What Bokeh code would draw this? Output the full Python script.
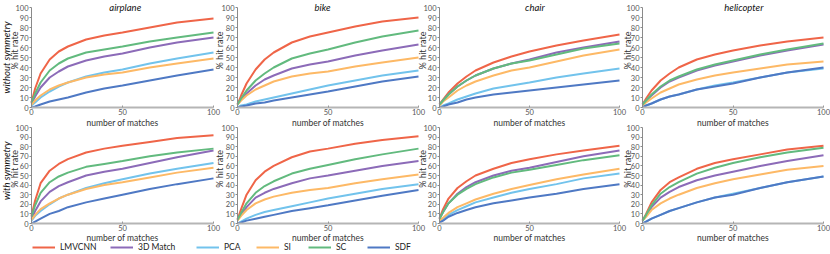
import math
from bokeh.plotting import figure
from bokeh.models import (Range1d, FixedTicker, Label, Legend, LegendItem,
                          LinearAxis)
from bokeh.embed import file_html
from bokeh.resources import INLINE

# ---------------- data ----------------
X_MATCHES = [0, 2, 5, 10, 15, 20, 30, 40, 50, 65, 80, 100]
METHODS = ["LMVCNN", "3D Match", "PCA", "SI", "SC", "SDF"]
CATEGORIES = ["airplane", "bike", "chair", "helicopter"]
ROW_LABELS = ["without symmetry", "with symmetry"]
Y_TICKS = [0, 10, 20, 30, 40, 50, 60, 70, 80, 90, 100]
X_TICKS = [0, 50, 100]

# without symmetry
AIRPLANE_WO = {
    "LMVCNN":   [5, 19, 34, 48, 56, 61, 68, 72, 75, 80, 85, 89],
    "3D Match": [4, 11, 20, 30, 36, 41, 47, 51, 54, 60, 65, 70],
    "PCA":      [2, 5, 10, 16, 21, 25, 31, 35, 38, 44, 49, 55],
    "SI":       [3, 7, 12, 18, 22, 25, 30, 33, 35, 40, 44, 49],
    "SC":       [5, 14, 25, 37, 44, 49, 55, 58, 61, 66, 70, 75],
    "SDF":      [0, 1, 3, 6, 8, 10, 15, 19, 22, 27, 32, 38],
}
BIKE_WO = {
    "LMVCNN":   [3, 12, 24, 38, 48, 55, 65, 71, 75, 81, 86, 90],
    "3D Match": [3, 8, 14, 22, 28, 32, 39, 43, 46, 52, 57, 63],
    "PCA":      [0, 2, 3, 6, 8, 10, 14, 18, 22, 27, 32, 37],
    "SI":       [3, 7, 12, 18, 22, 26, 31, 34, 36, 41, 45, 50],
    "SC":       [3, 9, 17, 27, 34, 40, 49, 54, 58, 65, 71, 77],
    "SDF":      [0, 1, 2, 4, 5, 7, 10, 13, 16, 21, 26, 31],
}
CHAIR_WO = {
    "LMVCNN":   [3, 8, 15, 24, 31, 37, 45, 51, 56, 62, 67, 73],
    "3D Match": [3, 7, 13, 21, 27, 32, 39, 44, 48, 55, 60, 66],
    "PCA":      [0, 2, 4, 8, 11, 14, 19, 22, 25, 30, 34, 39],
    "SI":       [2, 6, 10, 17, 22, 26, 32, 37, 40, 46, 52, 58],
    "SC":       [3, 7, 13, 21, 27, 32, 39, 44, 47, 53, 59, 64],
    "SDF":      [0, 1, 3, 5, 8, 10, 13, 15, 17, 20, 23, 27],
}
HELICOPTER_WO = {
    "LMVCNN":   [3, 9, 17, 27, 34, 40, 48, 53, 57, 62, 66, 70],
    "3D Match": [3, 7, 12, 20, 26, 30, 37, 42, 46, 52, 57, 63],
    "PCA":      [0, 2, 4, 8, 11, 13, 18, 22, 25, 30, 35, 39],
    "SI":       [2, 5, 9, 15, 19, 23, 28, 32, 35, 39, 43, 46],
    "SC":       [3, 7, 13, 21, 27, 31, 38, 43, 47, 53, 58, 64],
    "SDF":      [0, 2, 4, 8, 11, 13, 18, 21, 24, 30, 35, 40],
}
# with symmetry
AIRPLANE_W = {
    "LMVCNN":   [8, 24, 42, 55, 62, 67, 74, 78, 81, 85, 89, 92],
    "3D Match": [5, 13, 23, 33, 39, 43, 50, 54, 57, 63, 69, 76],
    "PCA":      [3, 8, 13, 20, 26, 30, 37, 42, 46, 52, 57, 63],
    "SI":       [4, 9, 15, 21, 26, 30, 36, 40, 43, 48, 53, 58],
    "SC":       [7, 19, 32, 43, 49, 53, 59, 62, 65, 70, 74, 78],
    "SDF":      [0, 2, 5, 10, 13, 17, 22, 26, 30, 36, 41, 47],
}
BIKE_W = {
    "LMVCNN":   [4, 15, 30, 45, 54, 60, 69, 75, 78, 83, 87, 91],
    "3D Match": [4, 9, 17, 27, 32, 36, 42, 47, 50, 55, 60, 65],
    "PCA":      [0, 2, 5, 9, 12, 14, 18, 22, 26, 31, 36, 41],
    "SI":       [3, 8, 14, 21, 25, 28, 32, 35, 37, 42, 46, 51],
    "SC":       [4, 11, 21, 32, 39, 44, 52, 57, 61, 67, 72, 78],
    "SDF":      [0, 1, 3, 5, 7, 9, 13, 16, 19, 24, 29, 35],
}
CHAIR_W = {
    "LMVCNN":   [5, 15, 26, 37, 44, 50, 57, 63, 67, 72, 76, 81],
    "3D Match": [5, 12, 21, 31, 38, 43, 50, 55, 58, 64, 70, 76],
    "PCA":      [2, 5, 9, 14, 18, 22, 27, 32, 36, 41, 47, 52],
    "SI":       [3, 6, 11, 17, 21, 25, 31, 36, 40, 46, 51, 57],
    "SC":       [5, 12, 21, 30, 36, 41, 48, 53, 56, 61, 66, 71],
    "SDF":      [1, 3, 7, 11, 14, 17, 21, 24, 27, 31, 36, 41],
}
HELICOPTER_W = {
    "LMVCNN":   [3, 10, 22, 35, 43, 48, 57, 63, 67, 72, 77, 81],
    "3D Match": [3, 8, 17, 27, 33, 38, 45, 50, 54, 60, 65, 71],
    "PCA":      [0, 2, 5, 9, 13, 16, 22, 27, 31, 37, 43, 49],
    "SI":       [3, 7, 14, 21, 26, 30, 37, 42, 46, 51, 56, 60],
    "SC":       [3, 9, 19, 31, 38, 43, 52, 58, 63, 69, 74, 79],
    "SDF":      [0, 2, 5, 9, 13, 16, 22, 27, 30, 37, 43, 49],
}
PANELS = [[AIRPLANE_WO, BIKE_WO, CHAIR_WO, HELICOPTER_WO],
          [AIRPLANE_W, BIKE_W, CHAIR_W, HELICOPTER_W]]

COLORS = {
    "LMVCNN": "#ef6548",
    "3D Match": "#8c6bb8",
    "PCA": "#72c3ec",
    "SI": "#fdb966",
    "SC": "#62ba7e",
    "SDF": "#4f79c4",
}

# ---------------- layout / style ----------------
FONT = "Lato"
W, H = 830, 254
FRAME_X = [(31, 213), (237, 418), (439, 619), (642, 823)]   # px of x=0 / x=100
FRAME_Y = [(7, 107), (127, 223)]                             # px (from top) of y=100 / y=0
TITLE_X = [51.5, 47, 53, 56]
YLABEL_DX = [-17.5, -18.5, -17, -15.5]
YLABEL_Y = 57
ROW_LABEL_DX = -25.5
ROW_LABEL_Y = [50, 55]
LEG_X = [32, 110, 196, 256, 308, 367]
LEG_Y = 2

p = figure(width=W, height=H, x_range=Range1d(0, W), y_range=Range1d(0, H),
           output_backend="svg", toolbar_location=None, min_border=0,
           x_axis_location=None, y_axis_location=None)
p.outline_line_color = None
p.grid.visible = False
p.background_fill_color = "white"
p.border_fill_color = "white"

xr = {}
for ci, (x0, x1) in enumerate(FRAME_X):
    s = (x1 - x0) / 100.0
    xr[f"c{ci}"] = Range1d(-x0 / s, (W - x0) / s)
yr = {}
for ri, (ytop, ybot) in enumerate(FRAME_Y):
    s = (ybot - ytop) / 100.0
    start = -(H - ybot) / s
    yr[f"r{ri}"] = Range1d(start, start + H / s)
p.extra_x_ranges = xr
p.extra_y_ranges = yr

legend_renderers = {}
for ri in range(2):
    for ci in range(4):
        xn, yn = f"c{ci}", f"r{ri}"
        data = PANELS[ri][ci]
        for m in METHODS:
            r = p.line(X_MATCHES, data[m], line_color=COLORS[m], line_width=2,
                       x_range_name=xn, y_range_name=yn)
            if ri == 0 and ci == 0:
                legend_renderers[m] = r

        xa = LinearAxis(x_range_name=xn, y_range_name=yn, fixed_location=0,
                        bounds=(0, 100), ticker=FixedTicker(ticks=X_TICKS))
        xa.axis_label = "number of matches"
        xa.axis_label_text_font = FONT
        xa.axis_label_text_font_size = "8.5px"
        xa.axis_label_text_font_style = "normal"
        xa.axis_label_text_color = "#333333"
        xa.axis_label_standoff = 0 if ri == 0 else -1
        xa.major_label_standoff = 1
        xa.major_label_text_font = FONT
        xa.major_label_text_font_size = "7.5px"
        xa.major_label_text_color = "#555555"
        xa.major_tick_in = 2
        xa.major_tick_out = 0
        xa.major_tick_line_color = "#999999"
        xa.minor_tick_line_color = None
        xa.axis_line_color = "#b5b5b5"
        xa.axis_line_width = 2
        p.add_layout(xa, "below")

        ya = LinearAxis(x_range_name=xn, y_range_name=yn, fixed_location=0,
                        bounds=(0, 100), ticker=FixedTicker(ticks=Y_TICKS))
        ya.major_label_standoff = 1
        ya.major_label_text_font = FONT
        ya.major_label_text_font_size = "7.5px"
        ya.major_label_text_color = "#555555"
        ya.major_tick_in = 0
        ya.major_tick_out = 2
        ya.major_tick_line_color = "#8a8a8a"
        ya.minor_tick_line_color = None
        ya.axis_line_color = "#8a8a8a"
        ya.axis_line_width = 1
        p.add_layout(ya, "left")

        p.add_layout(Label(x=0, y=YLABEL_Y, x_range_name=xn, y_range_name=yn,
                           x_offset=YLABEL_DX[ci], text="% hit rate",
                           angle=math.pi / 2, text_align="center",
                           text_baseline="middle", text_font=FONT,
                           text_font_size="9px", text_color="#333333"))
        if ci == 0:
            p.add_layout(Label(x=0, y=ROW_LABEL_Y[ri], x_range_name=xn,
                               y_range_name=yn, x_offset=ROW_LABEL_DX,
                               text=ROW_LABELS[ri], angle=math.pi / 2,
                               text_align="center", text_baseline="middle",
                               text_font=FONT, text_font_style="italic",
                               text_font_size="9.5px", text_color="#111111"))
        if ri == 0:
            p.add_layout(Label(x=TITLE_X[ci], y=100, x_range_name=xn,
                               y_range_name=yn, text=CATEGORIES[ci],
                               text_align="center", text_baseline="middle",
                               text_font=FONT, text_font_style="italic",
                               text_font_size="9.5px", text_color="#111111"))

for i, m in enumerate(METHODS):
    leg = Legend(items=[LegendItem(label=m, renderers=[legend_renderers[m]])],
                 location=(LEG_X[i], LEG_Y), orientation="horizontal",
                 padding=0, margin=0, spacing=0,
                 border_line_color=None, background_fill_alpha=0,
                 glyph_width=23, glyph_height=10, label_height=10,
                 label_standoff=5, label_text_font=FONT,
                 label_text_font_size="8.5px", label_text_color="#222222")
    p.add_layout(leg)

open("out.html", "w").write(file_html(p, INLINE))
